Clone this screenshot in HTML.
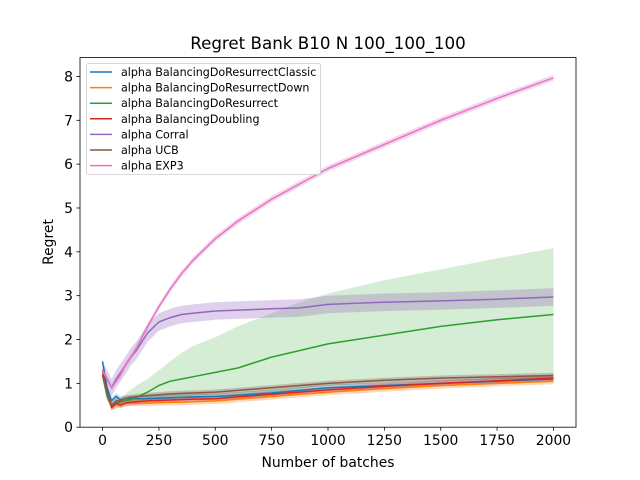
<!DOCTYPE html>
<html><head><meta charset="utf-8"><style>
body{margin:0;background:#fff;}
svg{display:block;font-family:"DejaVu Sans","Liberation Sans",sans-serif;}
</style></head><body>
<svg id="chart" width="640" height="480"></svg>
<script>
const xs = [0,20,40,60,80,100,125,150,200,250,300,350,400,500,600,750,875,1000,1250,1500,1750,2000];
const names = ["alpha BalancingDoResurrectClassic","alpha BalancingDoResurrectDown","alpha BalancingDoResurrect","alpha BalancingDoubling","alpha Corral","alpha UCB","alpha EXP3"];
const colors = ["#1f77b4","#ff7f0e","#2ca02c","#d62728","#9467bd","#8c564b","#e377c2"];
const classicMean = [1.5,0.9,0.6,0.7,0.62,0.65,0.65,0.65,0.65,0.66,0.67,0.68,0.69,0.7,0.73,0.78,0.84,0.9,0.95,1.0,1.05,1.1];
const downMean = [1.2,0.7,0.45,0.5,0.52,0.55,0.55,0.55,0.55,0.56,0.57,0.57,0.58,0.6,0.64,0.7,0.75,0.8,0.88,0.95,1.0,1.05];
const resurrectMean = [1.2,0.7,0.5,0.55,0.58,0.6,0.63,0.68,0.8,0.95,1.05,1.1,1.15,1.25,1.35,1.6,1.75,1.9,2.1,2.3,2.45,2.57];
const resurrectLo = [1.1,0.6,0.45,0.5,0.52,0.54,0.56,0.58,0.6,0.62,0.64,0.65,0.66,0.68,0.72,0.8,0.88,0.95,1.0,1.05,1.1,1.1];
const resurrectHi = [1.3,0.8,0.55,0.62,0.68,0.75,0.85,0.95,1.1,1.3,1.5,1.7,1.85,2.05,2.3,2.6,2.85,3.05,3.35,3.6,3.85,4.08];
const doublingMean = [1.3,0.8,0.45,0.55,0.5,0.55,0.57,0.58,0.6,0.61,0.62,0.63,0.64,0.65,0.69,0.75,0.8,0.85,0.93,1.0,1.06,1.12];
const corralMean = [1.3,1.1,0.9,1.1,1.25,1.4,1.6,1.75,2.15,2.4,2.5,2.57,2.6,2.65,2.67,2.7,2.72,2.8,2.85,2.88,2.92,2.97];
const ucbMean = [1.2,0.8,0.5,0.6,0.6,0.65,0.68,0.7,0.72,0.74,0.76,0.77,0.78,0.8,0.84,0.9,0.95,1.0,1.07,1.12,1.15,1.18];
const exp3Mean = [1.3,1.1,0.9,1.05,1.2,1.4,1.6,1.8,2.3,2.75,3.15,3.5,3.8,4.3,4.7,5.2,5.55,5.9,6.45,7.0,7.5,7.97];
const xTicks = [0,250,500,750,1000,1250,1500,1750,2000];
const yTicks = [0,1,2,3,4,5,6,7,8];

const L=80,R=576,T=57.6,B=427.2;
const X=v=>L+(v+100)/2200*(R-L);
const Y=v=>B-v/8.43*(B-T);
const svg=document.getElementById('chart');
const NS='http://www.w3.org/2000/svg';
function mk(tag,attrs,parent){const e=document.createElementNS(NS,tag);for(const k in attrs)e.setAttribute(k,attrs[k]);(parent||svg).appendChild(e);return e;}
function pts(arr){return arr.map((v,i)=>X(xs[i]).toFixed(1)+','+Y(v).toFixed(1)).join(' ');}
function band(lo,hi,color,op,name){
  const p=pts(lo)+' '+hi.map((v,i)=>X(xs[i]).toFixed(1)+','+Y(v).toFixed(1)).reverse().join(' ');
  const e=mk('polygon',{points:p,fill:color,'fill-opacity':op,stroke:'none'});
  
  
}
const series=[classicMean,downMean,resurrectMean,doublingMean,corralMean,ucbMean,exp3Mean];
const widths=[0.07,0.07,0,0.07,0.2,0.06,0.07];
const ids=['classic','down','resurrect','doubling','corral','ucb','exp3'];
series.forEach((s,k)=>{
  if(k===2) band(resurrectLo,resurrectHi,colors[2],0.2,'band-resurrect');
  else band(s.map(v=>v-widths[k]),s.map(v=>v+widths[k]),colors[k],0.3,'band-'+ids[k]);
});
series.forEach((s,k)=>{
  const e=mk('polyline',{points:pts(s),fill:'none',stroke:colors[k],'stroke-width':1.5,'stroke-linejoin':'round'});
  
  
});
const frame=mk('rect',{x:L,y:T,width:R-L,height:B-T,fill:'none',stroke:'#000','stroke-width':0.8});


xTicks.forEach(t=>{
  mk('line',{x1:X(t),x2:X(t),y1:B,y2:B+3.5,stroke:'#000','stroke-width':0.8});
  const tx=mk('text',{x:X(t),y:B+18,'font-size':13.9,'text-anchor':'middle'});tx.textContent=t;
  
  
});
yTicks.forEach(t=>{
  mk('line',{x1:L-3.5,x2:L,y1:Y(t),y2:Y(t),stroke:'#000','stroke-width':0.8});
  const tx=mk('text',{x:L-7,y:Y(t)+5,'font-size':13.9,'text-anchor':'end'});tx.textContent=t;
  
  
});
const title=mk('text',{x:328,y:49,'font-size':16.7,'text-anchor':'middle'});title.textContent='Regret Bank B10 N 100_100_100';


const xl=mk('text',{x:328,y:467,'font-size':13.9,'text-anchor':'middle'});xl.textContent='Number of batches';


const yl=mk('text',{x:0,y:0,'font-size':13.9,'text-anchor':'middle',transform:'translate(53,242) rotate(-90)'});yl.textContent='Regret';


const lg=mk('g',{});


mk('rect',{x:86.5,y:63.5,width:234,height:111,rx:2,fill:'#fff','fill-opacity':0.8,stroke:'#ccc','stroke-width':0.8},lg);
names.forEach((n,k)=>{
  const y=72+k*15.6;
  mk('line',{x1:90,x2:112,y1:y,y2:y,stroke:colors[k],'stroke-width':1.5},lg);
  const t=mk('text',{x:121,y:y+4,'font-size':11.1},lg);t.textContent=n;
  
  
});
</script>
</body></html>
